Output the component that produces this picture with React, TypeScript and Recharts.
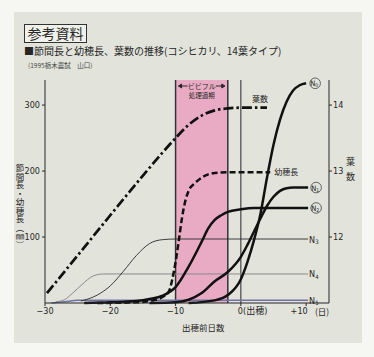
import {
  LineChart,
  Line,
  XAxis,
  YAxis,
  ReferenceArea,
  ReferenceLine,
  Label,
} from "recharts"

// values: x = days before heading, y = mm (leaf count on right axis)
const leafDays = [-29.7, -25, -20, -15, -12, -10, -8, -6, -4, -2, 0, 4]
const leafCount = [11.15, 11.72, 12.33, 12.93, 13.28, 13.5, 13.7, 13.84, 13.92, 13.95, 13.96, 13.96]

const panicleDays = [-22, -16, -13, -12, -11, -10.5, -10, -9.5, -9, -8.5, -8, -7, -6, -5, -4, -2, 0, 2, 4.5]
const panicleLen = [0, 1, 5, 9, 18, 36, 62, 95, 130, 155, 170, 182, 190, 195, 197, 198, 198, 198, 198]

const n0Days = [-8, -4, -2, 0, 1, 2, 3, 4, 5, 6, 7, 8, 9, 10]
const n0Len = [0, 4, 12, 36, 62, 95, 135, 190, 240, 278, 305, 322, 330, 333]

const n1Days = [-14, -10, -8, -6, -4, -2, 0, 1, 2, 3, 4, 5, 6, 7, 8, 10.3]
const n1Len = [0, 1, 5, 15, 33, 47, 70, 88, 108, 128, 147, 161, 170, 174, 175, 175]

const n2Days = [-24, -20, -16, -14, -12, -10, -8, -6, -5, -4, -3, -2, 0, 2, 10.3]
const n2Len = [0, 1, 3, 6, 11, 24, 55, 93, 113, 126, 133, 138, 142, 144, 144]

const n3Days = [-24.5, -22, -20, -18, -16, -14, -12, -10, 10.3]
const n3Len = [3, 12, 26, 48, 72, 90, 96, 97, 97]

const n4Days = [-28.3, -27, -26, -25, -24, -23, -22, -21, 10.3]
const n4Len = [2, 5, 13, 22, 31, 39, 43, 44, 44]

const n5Days = [-29, -27, -25, 10.3]
const n5Len = [0, 2, 4, 4]

const dayTicks = [-30, -20, -10, -2, 0, 10]
const lenTicks = [100, 200, 300]
const leafTicks = [12, 13, 14]

const rows = (days: number[], vals: number[]) => days.map((d, i) => ({ d, v: vals[i] }))

const numFont = "'DejaVu Sans Condensed', 'Liberation Sans Narrow', 'Liberation Sans', 'Noto Sans CJK JP', sans-serif"
const jpFont = "'Noto Sans CJK JP', sans-serif"
const ink = "#262626"

function DayTick({ x, y, payload }: any) {
  const v = payload.value
  const text = v === 0 ? "0(出穂)" : v > 0 ? `+${v}` : `−${Math.abs(v)}`
  // the +10 label sits a little left of its tick in the original
  const tx = v === 0 ? x - 3 : v > 0 ? x - 7 : x
  return (
    <text
      x={tx}
      y={y}
      dy="0.71em"
      textAnchor={v === 0 ? "start" : "middle"}
      fontSize={9}
      fill={ink}
      fontFamily={numFont}
    >
      {text}
    </text>
  )
}

// label drawn at the last point of a line
const endLabel = (sub: string, circled: boolean, count: number, dx: number) => (p: any) => {
  if (p.index !== count - 1) return <g />
  if (circled) {
    return (
      <g>
        <circle cx={p.x + dx} cy={p.y} r={5.3} fill="none" stroke="#444" strokeWidth={0.8} />
        <text x={p.x + dx - 1} y={p.y + 3} textAnchor="middle" fontSize={7.5} fill={ink} fontFamily={numFont}>
          N<tspan fontSize={5} dy={1}>{sub}</tspan>
        </text>
      </g>
    )
  }
  return (
    <text x={p.x + 1} y={p.y + 3.5} fontSize={9} fill={ink} fontFamily={numFont}>
      N<tspan fontSize={6} dy={1.5}>{sub}</tspan>
    </text>
  )
}

const textLabel = (txt: string, count: number, dx: number, dy: number, anchor: string) => (p: any) => {
  if (p.index !== count - 1) return <g />
  return (
    <text x={p.x + dx} y={p.y + dy} textAnchor={anchor as any} fontSize={8} fill={ink} fontFamily={jpFont}>
      {txt}
    </text>
  )
}

function BandLabel({ viewBox }: any) {
  const { x, y, width } = viewBox
  const cx = x + width / 2
  return (
    <g fontFamily={jpFont} fill={ink}>
      <text x={cx} y={y + 9} textAnchor="middle" fontSize={7}>ビビフル</text>
      <text x={cx} y={y + 18} textAnchor="middle" fontSize={6.5}>処理適期</text>
      <path d={`M${x + 12} ${y + 6}H${x + 3}l3 -2v4l-3 -2`} stroke={ink} strokeWidth={1} fill={ink} />
      <path d={`M${x + width - 12} ${y + 6}H${x + width - 3}l-3 -2v4l3 -2`} stroke={ink} strokeWidth={1} fill={ink} />
    </g>
  )
}

export default function App() {
  return (
    <div style={{ position: "absolute", left: 0, top: 0, width: 374, height: 357, background: "#f6f6f3", fontFamily: jpFont, color: ink }}>
      <div style={{ position: "absolute", left: 14, top: 12, width: 348, height: 331, background: "#e2e4db" }} />
      <div
        style={{
          position: "absolute", left: 24, top: 24, width: 61, height: 17, border: "1px solid #333",
          background: "#f1f1ec", fontSize: 14, lineHeight: "17px", textAlign: "center",
        }}
      >
        参考資料
      </div>
      <div style={{ position: "absolute", left: 24, top: 46, fontSize: 10, lineHeight: "10px", whiteSpace: "nowrap" }}>
        ■節間長と幼穂長、葉数の推移(コシヒカリ、14葉タイプ)
      </div>
      <div style={{ position: "absolute", left: 28, top: 62, fontSize: 6.5, lineHeight: "7px", whiteSpace: "nowrap", color: "#444" }}>
        (1995栃木農試　山口)
      </div>

      <div style={{ position: "absolute", left: 0, top: 0 }}>
        <LineChart width={374} height={357} margin={{ top: 80, right: 15, bottom: 34, left: 15 }}>
          <XAxis
            type="number"
            dataKey="d"
            domain={[-30, 13.5]}
            ticks={dayTicks}
            allowDataOverflow
            height={20}
            tick={<DayTick />}
            tickSize={3}
            stroke={ink}
          />
          <YAxis
            yAxisId="len"
            domain={[0, 338]}
            ticks={lenTicks}
            width={30}
            tickSize={3}
            stroke={ink}
            tick={{ fontSize: 9, fill: ink, fontFamily: numFont }}
          />
          <YAxis
            yAxisId="leaf"
            orientation="right"
            domain={[11, 14.38]}
            ticks={leafTicks}
            width={30}
            tickSize={3}
            tickMargin={1}
            stroke={ink}
            tick={{ fontSize: 9, fill: ink, fontFamily: numFont }}
          />

          <ReferenceArea yAxisId="len" x1={-10} x2={-2} y1={0} y2={338} fill="#e9abc3" fillOpacity={1} stroke="none">
            <Label content={<BandLabel />} />
          </ReferenceArea>
          <ReferenceLine yAxisId="len" x={-10} stroke="#333" strokeWidth={1.5} />
          <ReferenceLine yAxisId="len" x={-2} stroke="#333" strokeWidth={1.5} />
          <ReferenceLine yAxisId="len" x={0} stroke={ink} strokeWidth={1} />

          <Line yAxisId="len" data={rows(n5Days, n5Len)} dataKey="v" type="monotone" stroke="#6f73a8" strokeWidth={1.5}
            dot={false} isAnimationActive={false} label={endLabel("5", false, n5Days.length, 0)} />
          <Line yAxisId="len" data={rows(n4Days, n4Len)} dataKey="v" type="monotone" stroke="#8a8a8a" strokeWidth={1}
            dot={false} isAnimationActive={false} label={endLabel("4", false, n4Days.length, 0)} />
          <Line yAxisId="len" data={rows(n3Days, n3Len)} dataKey="v" type="monotone" stroke="#2a2a2a" strokeWidth={0.9}
            dot={false} isAnimationActive={false} label={endLabel("3", false, n3Days.length, 0)} />

          <Line yAxisId="len" data={rows(n2Days, n2Len)} dataKey="v" type="monotone" stroke="#111" strokeWidth={2.5}
            dot={false} isAnimationActive={false} label={endLabel("2", true, n2Days.length, 8)} />
          <Line yAxisId="len" data={rows(n1Days, n1Len)} dataKey="v" type="monotone" stroke="#111" strokeWidth={2.5}
            dot={false} isAnimationActive={false} label={endLabel("1", true, n1Days.length, 8)} />
          <Line yAxisId="len" data={rows(n0Days, n0Len)} dataKey="v" type="monotone" stroke="#111" strokeWidth={2.5}
            dot={false} isAnimationActive={false} label={endLabel("0", true, n0Days.length, 9)} />

          <Line yAxisId="len" data={rows(panicleDays, panicleLen)} dataKey="v" type="monotone" stroke="#111" strokeWidth={2.5}
            strokeDasharray="6 3" dot={false} isAnimationActive={false}
            label={textLabel("幼穂長", panicleDays.length, 4, 3, "start")} />
          <Line yAxisId="leaf" data={rows(leafDays, leafCount)} dataKey="v" type="monotone" stroke="#111" strokeWidth={2.7}
            strokeDasharray="10 3 2.5 3" dot={false} isAnimationActive={false}
            label={textLabel("葉数", leafDays.length, 1, -6, "end")} />
        </LineChart>
      </div>

      <div style={{ position: "absolute", left: 15, top: 164, writingMode: "vertical-rl", fontSize: 8.5, lineHeight: "10px", whiteSpace: "nowrap" }}>
        節間長・幼穂長（㎜）
      </div>
      <div style={{ position: "absolute", left: 345, top: 157, writingMode: "vertical-rl", fontSize: 9, lineHeight: "10px", letterSpacing: 6 }}>
        葉数
      </div>
      <div style={{ position: "absolute", left: 182, top: 322, fontSize: 8.5, lineHeight: "10px", whiteSpace: "nowrap" }}>
        出穂前日数
      </div>
      <div style={{ position: "absolute", left: 315, top: 306, fontSize: 8.5, lineHeight: "10px", whiteSpace: "nowrap" }}>
        (日)
      </div>
    </div>
  )
}
